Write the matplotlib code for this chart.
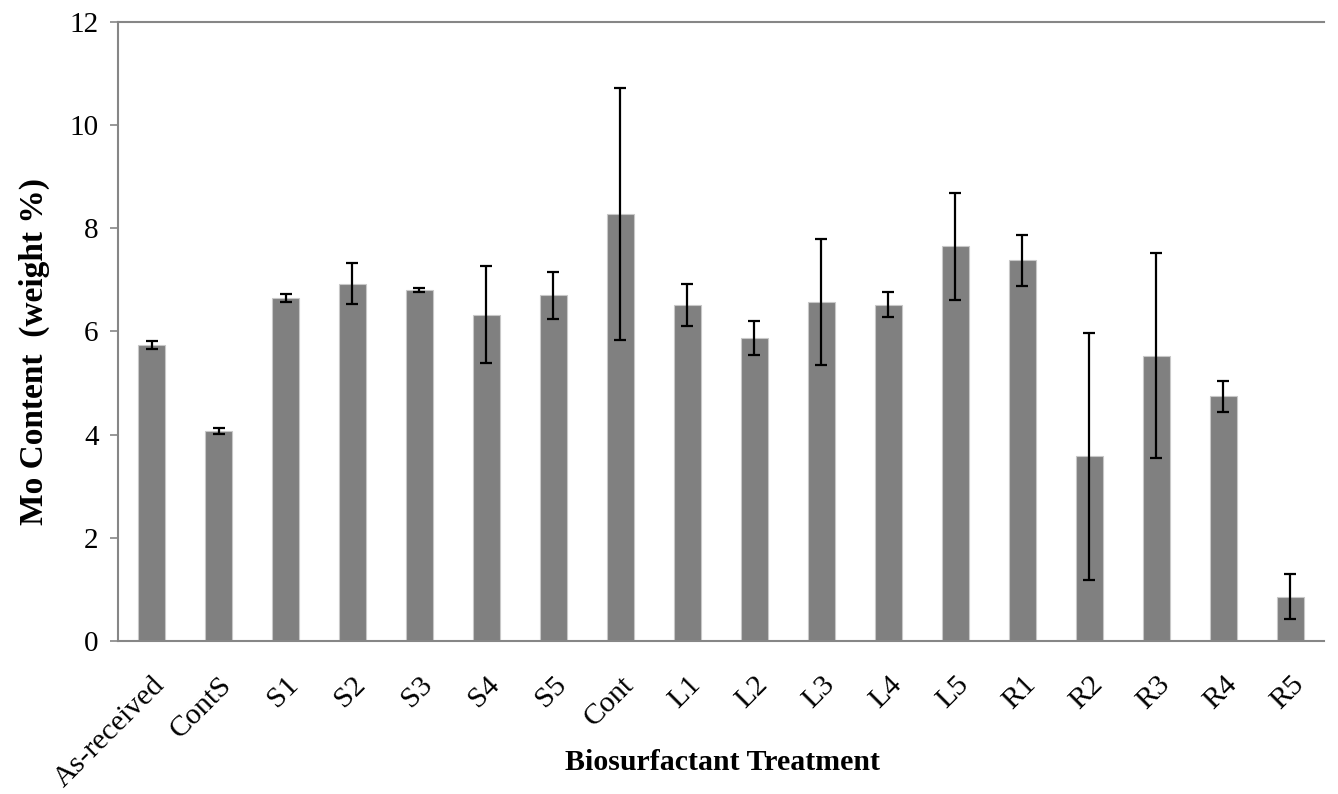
import numpy as np
import matplotlib
matplotlib.use("Agg")
import matplotlib.pyplot as plt

categories = ["As-received", "ContS", "S1", "S2", "S3", "S4", "S5", "Cont",
              "L1", "L2", "L3", "L4", "L5", "R1", "R2", "R3", "R4", "R5"]
mo_content = [5.74, 4.07, 6.65, 6.93, 6.80, 6.32, 6.70, 8.28,
              6.52, 5.87, 6.57, 6.52, 7.65, 7.38, 3.58, 5.53, 4.74, 0.86]
mo_error = [0.08, 0.06, 0.07, 0.40, 0.04, 0.94, 0.45, 2.45,
            0.41, 0.33, 1.22, 0.24, 1.03, 0.50, 2.40, 1.99, 0.30, 0.43]

plt.rcParams['font.family'] = ['Liberation Serif', 'DejaVu Serif']

fig = plt.figure(figsize=(13.38, 7.94), dpi=100)
ax = fig.add_axes([0.0882, 0.1927, 0.9013, 0.7796])

x = np.arange(len(categories))
ax.bar(x, mo_content, width=0.41, color='#808080', edgecolor='#c8c8c8', linewidth=0.8,
       yerr=mo_error, error_kw=dict(ecolor='black', elinewidth=1.6, capsize=4.5, capthick=1.6))

ax.set_xlim(-0.5, len(categories) - 0.5)
ax.set_ylim(0, 12)
ax.set_yticks(range(0, 13, 2))
ax.set_xticks(x)
ax.set_xticklabels(categories, rotation=45, ha='right', rotation_mode='anchor', fontsize=21.5)
ax.tick_params(axis='y', labelsize=21, direction='out', length=6, width=1.2, color='#868686', pad=8)
ax.tick_params(axis='x', length=0, pad=22)

for side in ['left', 'bottom', 'top']:
    ax.spines[side].set_color('#868686')
    ax.spines[side].set_linewidth(1.5)
ax.spines['right'].set_visible(False)

ax.set_ylabel('Mo Content  (weight %)', fontsize=24, fontweight='bold')
ax.yaxis.set_label_coords(-0.056, 0.467)
ax.set_xlabel('Biosurfactant Treatment', fontsize=21.5, fontweight='bold')
ax.xaxis.set_label_coords(0.501, -0.175)

fig.savefig('out.png', dpi=100)
